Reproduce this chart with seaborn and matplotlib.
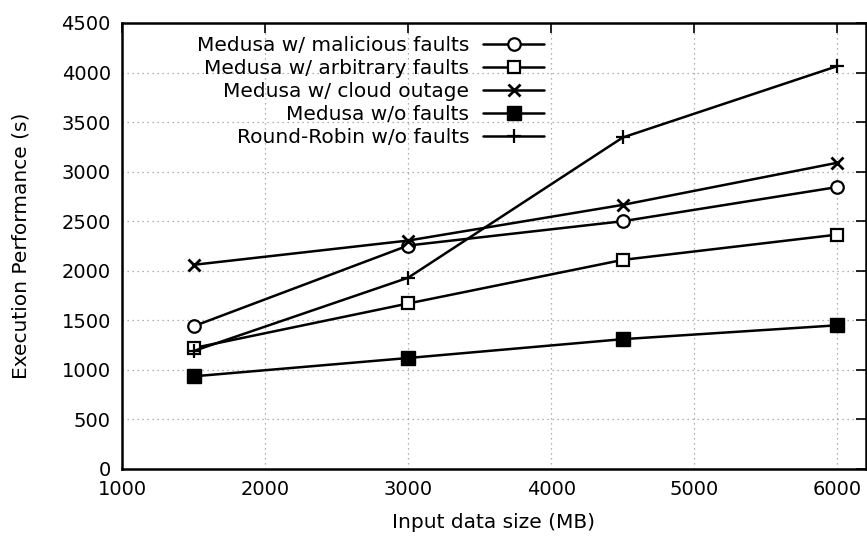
import matplotlib
matplotlib.use("Agg")
import matplotlib.pyplot as plt
import seaborn as sns
import pandas as pd

sns.set_style("white")
plt.rcParams["font.family"] = ["DejaVu Sans"]
plt.rcParams["text.color"] = "black"
plt.rcParams["axes.labelcolor"] = "black"
plt.rcParams["xtick.color"] = "black"
plt.rcParams["ytick.color"] = "black"

# Input sizes (MB)
sizes = [1500, 3000, 4500, 6000]

# Execution time (s) per configuration
malicious = [1440, 2255, 2500, 2845]
arbitrary = [1220, 1670, 2110, 2365]
cloud_outage = [2060, 2305, 2665, 3090]
no_faults = [935, 1120, 1310, 1450]
round_robin = [1190, 1930, 3345, 4065]

labels = [
    "Medusa w/ malicious faults",
    "Medusa w/ arbitrary faults",
    "Medusa w/ cloud outage",
    "Medusa w/o faults",
    "Round-Robin w/o faults",
]
series = [malicious, arbitrary, cloud_outage, no_faults, round_robin]

x_ticks = [1000, 2000, 3000, 4000, 5000, 6000]
y_ticks = list(range(0, 4501, 500))

styles = [
    dict(marker="o", ms=9, mfc="white", mew=1.6),
    dict(marker="s", ms=8.5, mfc="white", mew=1.6),
    dict(marker="x", ms=9, mew=2.0),
    dict(marker="s", ms=10, mfc="black", mew=1.0),
    dict(marker="+", ms=10, mew=1.6),
]

fig = plt.figure(figsize=(8.67, 5.41), dpi=100)
ax = fig.add_axes([122 / 867, 72 / 541, 744 / 867, 446 / 541])

for lab, vals, st in zip(labels, series, styles):
    df = pd.DataFrame({"size": sizes, "time": vals})
    sns.lineplot(data=df, x="size", y="time", ax=ax, color="black",
                 lw=1.8, mec="black", label=lab, **st)

ax.set_xlim(1000, 6200)
ax.set_ylim(0, 4500)
ax.set_xticks(x_ticks)
ax.set_yticks(y_ticks)
ax.tick_params(direction="in", length=7, width=1.2, top=True, right=True,
               labelsize=14, pad=8)
ax.grid(True, linestyle=(0, (1, 3)), color="#999999", linewidth=0.9)
for sp in ax.spines.values():
    sp.set_color("black")
    sp.set_linewidth(1.8)

ax.set_xlabel("Input data size (MB)", fontsize=14.5, labelpad=10)
ax.set_ylabel("Execution Performance (s)", fontsize=14.5, labelpad=22)

leg = ax.legend(loc="upper right", bbox_to_anchor=(0.567, 0.97),
                frameon=False, markerfirst=False, fontsize=14.5,
                handlelength=3.0, handletextpad=0.7, labelspacing=0.2,
                borderpad=0.0, borderaxespad=0.0)

fig.savefig("out.png", dpi=100)
